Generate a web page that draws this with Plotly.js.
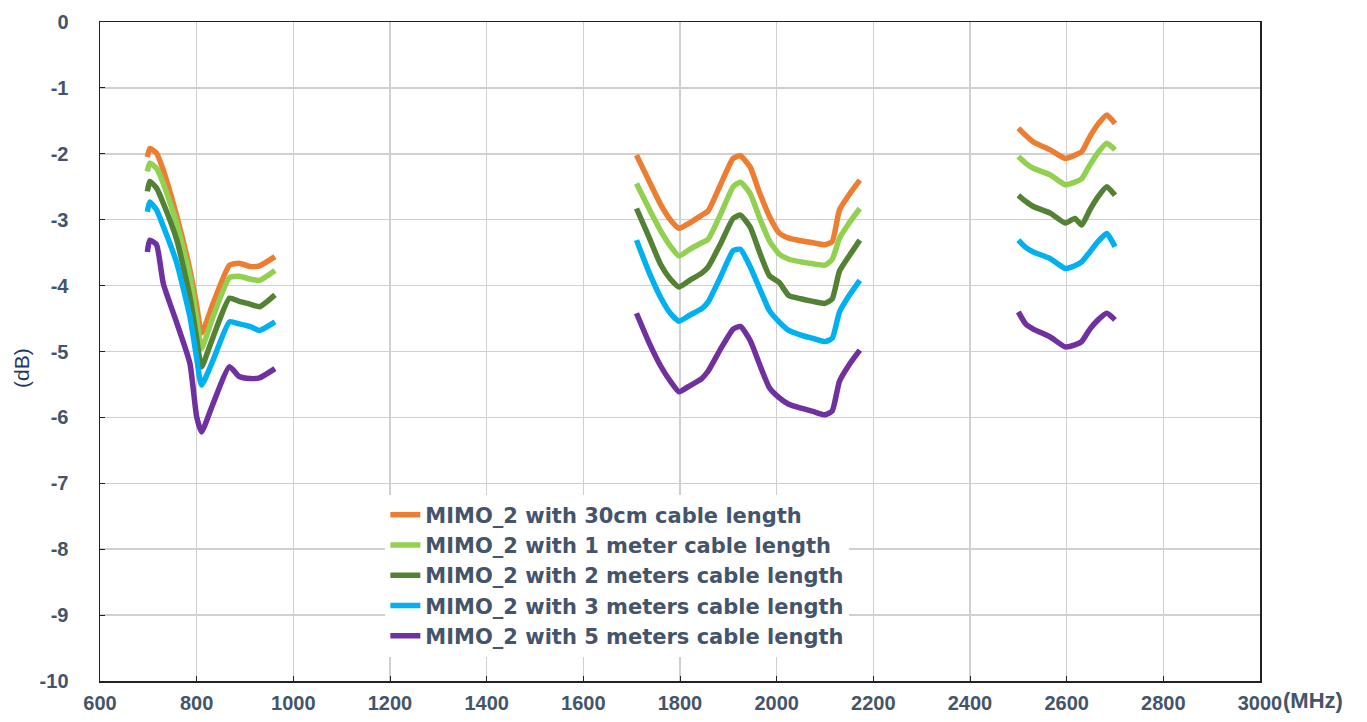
<!DOCTYPE html>
<html>
<head>
<meta charset="utf-8">
<script src="https://cdn.plot.ly/plotly-3.0.1.min.js"></script>
<style>html,body{margin:0;padding:0;background:#fff;}#chart{width:1367px;height:722px;}</style>
</head>
<body>
<div id="chart"></div>
<script>
// Frequency points (MHz) for each band
const band1X = [698, 703, 717, 731, 759, 786, 800, 810, 834, 868, 888, 910, 930, 962];
const band2X = [1710, 1735, 1760, 1780, 1798, 1820, 1845, 1858, 1885, 1910, 1925, 1945, 1965, 1985, 2005, 2025, 2050, 2075, 2100, 2115, 2130, 2150, 2172];
const band3X = [2500, 2515, 2531, 2566, 2597, 2617, 2631, 2648, 2665, 2683, 2700];

// Series names
const seriesNames = [
  "MIMO_2 with 30cm cable length",
  "MIMO_2 with 1 meter cable length",
  "MIMO_2 with 2 meters cable length",
  "MIMO_2 with 3 meters cable length",
  "MIMO_2 with 5 meters cable length"
];

// 30 cm
const cm30_b1 = [-2.05, -1.92, -1.99, -2.25, -2.95, -3.76, -4.30, -4.72, -4.27, -3.69, -3.66, -3.71, -3.70, -3.56];
const cm30_b2 = [-2.02, -2.40, -2.77, -3.00, -3.13, -3.05, -2.93, -2.87, -2.45, -2.07, -2.03, -2.20, -2.60, -2.95, -3.20, -3.28, -3.32, -3.35, -3.38, -3.33, -2.85, -2.62, -2.40];
const cm30_b3 = [-1.61, -1.72, -1.82, -1.94, -2.07, -2.02, -1.97, -1.74, -1.55, -1.41, -1.54];
// 1 meter
const m1_b1 = [-2.27, -2.14, -2.22, -2.45, -3.06, -3.86, -4.50, -4.95, -4.47, -3.88, -3.86, -3.90, -3.92, -3.77];
const m1_b2 = [-2.45, -2.82, -3.17, -3.40, -3.55, -3.45, -3.35, -3.30, -2.90, -2.50, -2.43, -2.60, -2.98, -3.32, -3.52, -3.60, -3.64, -3.67, -3.69, -3.60, -3.28, -3.05, -2.83];
const m1_b3 = [-2.04, -2.14, -2.22, -2.32, -2.47, -2.43, -2.38, -2.17, -1.98, -1.84, -1.94];
// 2 meters
const m2_b1 = [-2.57, -2.42, -2.52, -2.75, -3.31, -4.17, -4.80, -5.23, -4.78, -4.19, -4.24, -4.28, -4.32, -4.14];
const m2_b2 = [-2.83, -3.25, -3.68, -3.90, -4.02, -3.92, -3.81, -3.72, -3.35, -2.98, -2.93, -3.11, -3.50, -3.85, -3.95, -4.15, -4.20, -4.24, -4.27, -4.20, -3.78, -3.55, -3.31];
const m2_b3 = [-2.63, -2.72, -2.80, -2.90, -3.05, -2.98, -3.08, -2.85, -2.65, -2.50, -2.63];
// 3 meters
const m3_b1 = [-2.88, -2.73, -2.85, -3.10, -3.66, -4.47, -5.10, -5.51, -5.13, -4.55, -4.58, -4.62, -4.68, -4.55];
const m3_b2 = [-3.31, -3.78, -4.18, -4.42, -4.54, -4.45, -4.35, -4.25, -3.85, -3.47, -3.45, -3.71, -4.05, -4.38, -4.55, -4.68, -4.75, -4.80, -4.85, -4.80, -4.40, -4.15, -3.92];
const m3_b3 = [-3.31, -3.42, -3.49, -3.59, -3.74, -3.70, -3.64, -3.49, -3.33, -3.21, -3.41];
// 5 meters
const m5_b1 = [-3.49, -3.31, -3.38, -3.97, -4.57, -5.18, -5.99, -6.22, -5.79, -5.23, -5.38, -5.41, -5.40, -5.26];
const m5_b2 = [-4.42, -4.85, -5.22, -5.45, -5.61, -5.52, -5.41, -5.30, -4.95, -4.66, -4.62, -4.83, -5.20, -5.55, -5.70, -5.80, -5.86, -5.91, -5.96, -5.90, -5.45, -5.20, -4.98];
const m5_b3 = [-4.40, -4.58, -4.66, -4.78, -4.93, -4.90, -4.85, -4.66, -4.52, -4.42, -4.52];

const xTicks = [600, 800, 1000, 1200, 1400, 1600, 1800, 2000, 2200, 2400, 2600, 2800, 3000];
const yTicks = [0, -1, -2, -3, -4, -5, -6, -7, -8, -9, -10];

const colors = ["#ED7D31", "#92D050", "#548235", "#00B0F0", "#7030A0"];
const seriesBands = [
  [cm30_b1, cm30_b2, cm30_b3],
  [m1_b1, m1_b2, m1_b3],
  [m2_b1, m2_b2, m2_b3],
  [m3_b1, m3_b2, m3_b3],
  [m5_b1, m5_b2, m5_b3]
];

const allX = band1X.concat([null], band2X, [null], band3X);
const traces = seriesBands.map((b, i) => ({
  type: "scatter",
  mode: "lines",
  name: seriesNames[i],
  x: allX,
  y: b[0].concat([null], b[1], [null], b[2]),
  connectgaps: false,
  line: {color: colors[i], width: 5.5, shape: "spline", smoothing: 0.5}
}));

const tickFont = {family: "Liberation Sans, Arial, sans-serif", size: 20, color: "#44546A", weight: "bold"};

const layout = {
  width: 1367, height: 722,
  margin: {l: 100, r: 107, t: 22, b: 41},
  paper_bgcolor: "#ffffff", plot_bgcolor: "#ffffff",
  showlegend: true,
  legend: {
    x: 0.246, y: 0.283, xanchor: "left", yanchor: "top",
    bgcolor: "#ffffff", borderwidth: 0,
    font: {family: "DejaVu Sans, sans-serif", size: 21, color: "#44546A", weight: "bold"},
    itemwidth: 30, tracegroupgap: 0
  },
  xaxis: {
    range: [600, 3000], tickvals: xTicks, ticktext: xTicks.map(String),
    showgrid: true, gridcolor: "#D0D0D0", gridwidth: 1.5,
    showline: true, linecolor: "#222", linewidth: 1.5, mirror: true,
    ticks: "inside", ticklen: 5, tickcolor: "#222",
    zeroline: false, tickfont: tickFont, ticklabelstandoff: 3
  },
  yaxis: {
    range: [-10, 0], tickvals: yTicks, ticktext: yTicks.map(String),
    showgrid: true, gridcolor: "#D0D0D0", gridwidth: 1.5,
    showline: true, linecolor: "#222", linewidth: 1.5, mirror: true,
    ticks: "inside", ticklen: 5, tickcolor: "#222",
    zeroline: false, tickfont: tickFont, ticklabelstandoff: 26
  },
  annotations: [
    {text: "(MHz)", xref: "paper", yref: "paper", x: 1.018, y: 0, yshift: -19,
     xanchor: "left", yanchor: "middle", showarrow: false,
     font: {family: "Liberation Sans, Arial, sans-serif", size: 22, color: "#44546A", weight: "bold"}},
    {text: "(dB)", xref: "paper", yref: "paper", x: 0, xshift: -78, y: 0.475,
     xanchor: "center", yanchor: "middle", textangle: -90, showarrow: false,
     font: {family: "Liberation Sans, Arial, sans-serif", size: 21, color: "#1F3864"}}
  ]
};

Plotly.newPlot("chart", traces, layout, {displayModeBar: false, staticPlot: true});
</script>
</body>
</html>
